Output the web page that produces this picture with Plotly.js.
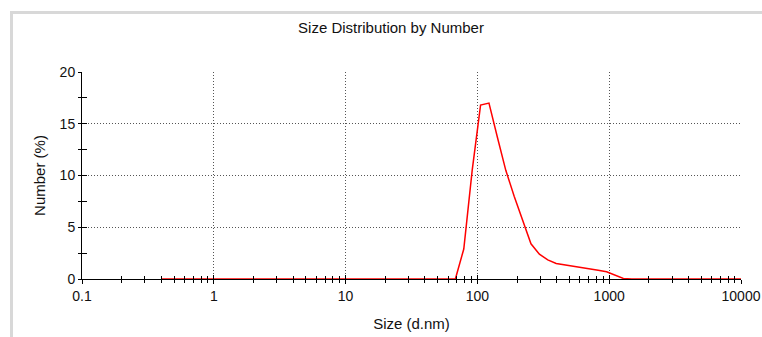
<!DOCTYPE html>
<html>
<head>
<meta charset="utf-8">
<script src="https://cdn.plot.ly/plotly-3.0.1.min.js"></script>
<style>
  html, body { margin: 0; padding: 0; background: #ffffff; }
  #chart { width: 762px; height: 337px; }
</style>
</head>
<body>
<div id="chart"></div>
<script>
// Size bins (d.nm)
var sizes = [0.4, 0.4632, 0.5365, 0.6213, 0.7195, 0.8332, 0.9649, 1.117, 1.294, 1.499,
  1.736, 2.010, 2.328, 2.696, 3.122, 3.615, 4.187, 4.849, 5.615, 6.503,
  7.531, 8.721, 10.10, 11.70, 13.54, 15.69, 18.17, 21.04, 24.36, 28.21,
  32.67, 37.84, 43.82, 50.75, 58.77, 68.06, 78.82, 91.28, 105.7, 122.4,
  141.8, 164.2, 190.1, 220.2, 255.0, 295.3, 342.0, 396.1, 458.7, 531.2,
  615.1, 712.4, 825.0, 955.4, 1106, 1281, 1484, 1718, 1990, 2305,
  2669, 3091, 3580, 4145, 4801, 5560, 6439, 7456, 8635, 10000];
// Number (%)
var numberPct = [0, 0, 0, 0, 0, 0, 0, 0, 0, 0,
  0, 0, 0, 0, 0, 0, 0, 0, 0, 0,
  0, 0, 0, 0, 0, 0, 0, 0, 0, 0,
  0, 0, 0, 0, 0, 0, 2.9, 10.5, 16.8, 17.0,
  13.7, 10.5, 8.0, 5.6, 3.4, 2.4, 1.85, 1.5, 1.38, 1.25,
  1.12, 0.98, 0.84, 0.7, 0.35, 0.05, 0, 0, 0, 0,
  0, 0, 0, 0, 0, 0, 0, 0, 0, 0];

var xMajorVals = [0.1, 1, 10, 100, 1000, 10000];
var xMajorText = ["0.1", "1", "10", "100", "1000", "10000"];
var xMinorVals = [0.2,0.3,0.4,0.5,0.6,0.7,0.8,0.9,
  2,3,4,5,6,7,8,9, 20,30,40,50,60,70,80,90,
  200,300,400,500,600,700,800,900, 2000,3000,4000,5000,6000,7000,8000,9000];
var yMajorVals = [0, 5, 10, 15, 20];
var yMinorVals = [2.5, 7.5, 12.5, 17.5];

var W = 762, H = 337;
var mL = 82, mR = 21, mT = 72, mB = 58;
var pw = W - mL - mR, ph = H - mT - mB;
function px2paperX(p) { return (p - mL) / pw; }
function px2paperY(p) { return (H - mB - p) / ph; }

var FONT = 'Liberation Sans, Arial, sans-serif';
var gridDash = '1px,2px';
var gridColor = '#555555';

var trace = {
  x: sizes, y: numberPct, type: 'scatter', mode: 'lines',
  line: { color: '#ff0000', width: 1.5 },
  hoverinfo: 'x+y', cliponaxis: false
};
var dummy = { x: [], y: [], xaxis: 'x2', yaxis: 'y2', type: 'scatter', mode: 'lines', showlegend: false };

var layout = {
  width: W, height: H,
  margin: { l: mL, r: mR, t: mT, b: mB, pad: 0 },
  paper_bgcolor: '#ffffff', plot_bgcolor: '#ffffff',
  showlegend: false,
  font: { family: FONT, size: 14, color: '#111111' },
  title: {
    text: 'Size Distribution by Number',
    font: { family: FONT, size: 15, color: '#111111' },
    xref: 'container', yref: 'container',
    x: 391 / W, xanchor: 'center',
    y: 1 - 28 / H, yanchor: 'middle'
  },
  xaxis: {
    type: 'log', range: [-1, 4], fixedrange: true,
    tickmode: 'array', tickvals: xMajorVals, ticktext: xMajorText,
    ticks: 'outside', ticklen: 4, tickwidth: 1, tickcolor: '#000000',
    showline: true, linecolor: '#000000', linewidth: 1,
    showgrid: true, gridcolor: gridColor, gridwidth: 1, griddash: gridDash,
    zeroline: false,
    tickfont: { family: FONT, size: 14, color: '#111111' },
    minor: { tickmode: 'array', tickvals: xMinorVals, ticks: 'outside', ticklen: 3, tickwidth: 1, tickcolor: '#000000', showgrid: false },
    title: { text: 'Size (d.nm)', font: { family: FONT, size: 15, color: '#111111' }, standoff: 15 }
  },
  yaxis: {
    range: [0, 20], fixedrange: true,
    tickmode: 'array', tickvals: yMajorVals,
    ticks: 'outside', ticklen: 3, tickwidth: 1, tickcolor: '#000000',
    showline: true, linecolor: '#000000', linewidth: 1,
    showgrid: true, gridcolor: gridColor, gridwidth: 1, griddash: gridDash,
    zeroline: false,
    tickfont: { family: FONT, size: 14, color: '#111111' },
    minor: { tickmode: 'array', tickvals: yMinorVals, ticks: 'outside', ticklen: 3, tickwidth: 1, tickcolor: '#000000', showgrid: false },
    title: { text: 'Number (%)', font: { family: FONT, size: 15, color: '#111111' }, standoff: 10 }
  },
  xaxis2: {
    type: 'log', range: [-1, 4], overlaying: 'x', anchor: 'y', side: 'bottom', fixedrange: true,
    tickmode: 'array', tickvals: xMajorVals, showticklabels: false,
    ticks: 'inside', ticklen: 4, tickwidth: 1, tickcolor: '#000000',
    showline: false, showgrid: false, zeroline: false,
    minor: { tickmode: 'array', tickvals: xMinorVals, ticks: 'inside', ticklen: 3, tickwidth: 1, tickcolor: '#000000', showgrid: false }
  },
  yaxis2: {
    range: [0, 20], overlaying: 'y', anchor: 'x', side: 'left', fixedrange: true,
    tickmode: 'array', tickvals: yMajorVals, showticklabels: false,
    ticks: 'inside', ticklen: 5, tickwidth: 1, tickcolor: '#000000',
    showline: false, showgrid: false, zeroline: false,
    minor: { tickmode: 'array', tickvals: yMinorVals, ticks: 'inside', ticklen: 5, tickwidth: 1, tickcolor: '#000000', showgrid: false }
  },
  shapes: [
    { type: 'line', xref: 'paper', yref: 'paper', layer: 'above',
      x0: px2paperX(11.5), x1: px2paperX(11.5), y0: px2paperY(H + 5), y1: px2paperY(12.5),
      line: { color: '#d8d8d8', width: 3 } },
    { type: 'line', xref: 'paper', yref: 'paper', layer: 'above',
      x0: px2paperX(10), x1: px2paperX(W + 5), y0: px2paperY(12.5), y1: px2paperY(12.5),
      line: { color: '#d8d8d8', width: 3 } }
  ]
};

Plotly.newPlot('chart', [trace, dummy], layout, { displayModeBar: false, staticPlot: true });
</script>
</body>
</html>
